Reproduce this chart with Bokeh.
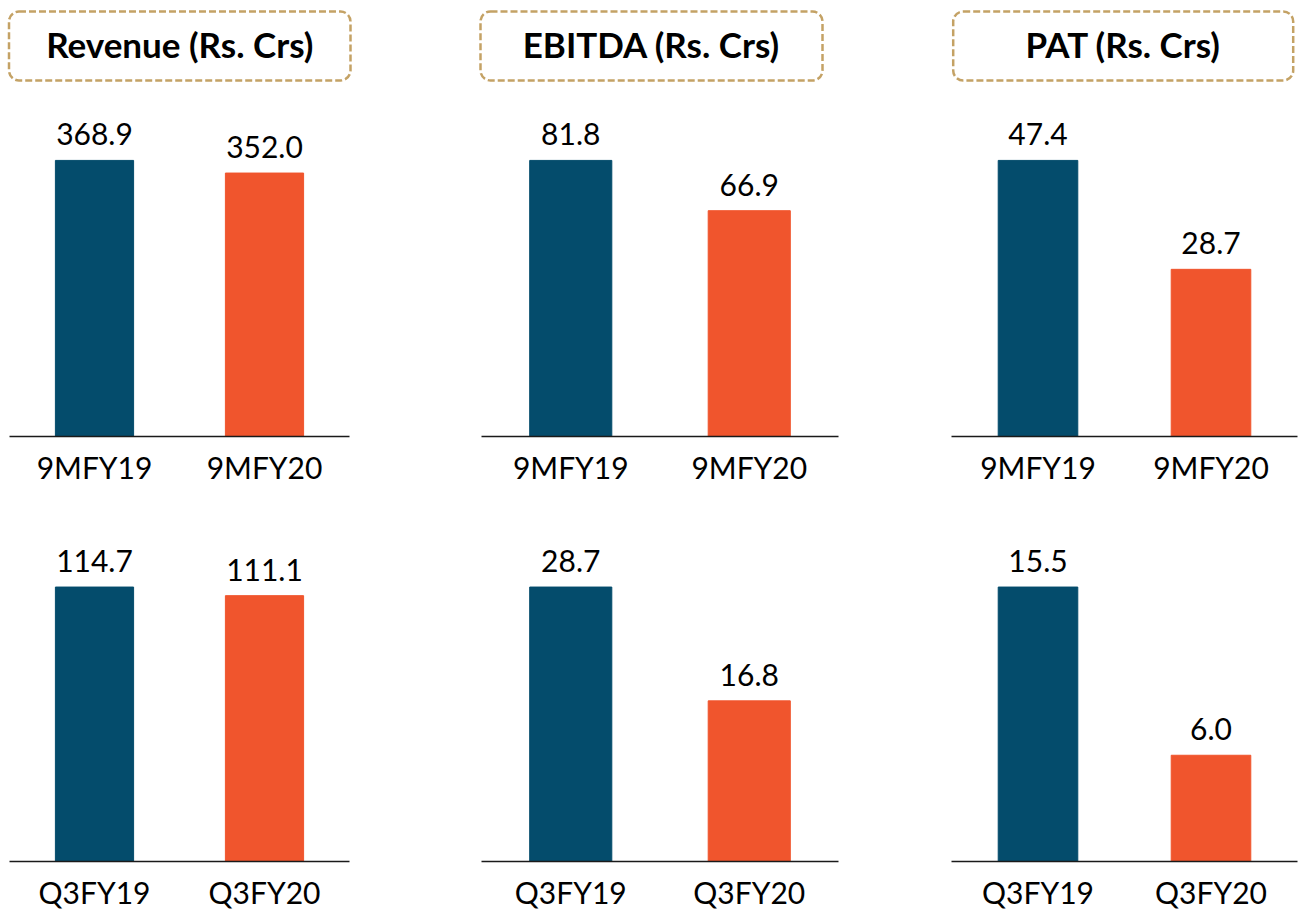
from bokeh.plotting import figure
from bokeh.models import FactorRange, Range1d, BoxAnnotation, LabelSet, ColumnDataSource
from bokeh.layouts import row, column
from bokeh.core.properties import value
from bokeh.embed import file_html
from bokeh.resources import INLINE

# ---- data ----
titles = ["Revenue (Rs. Crs)", "EBITDA (Rs. Crs)", "PAT (Rs. Crs)"]
cats_9m = ["9MFY19", "9MFY20"]
cats_q3 = ["Q3FY19", "Q3FY20"]
revenue_9m = [368.9, 352.0]
ebitda_9m = [81.8, 66.9]
pat_9m = [47.4, 28.7]
revenue_q3 = [114.7, 111.1]
ebitda_q3 = [28.7, 16.8]
pat_q3 = [15.5, 6.0]
bar_colors = ["#044C6C", "#F0552D"]

# ---- layout constants (pixels) ----
FONT = "Lato"
col_w = [415, 480, 405]
frame_left = [9, 66, 56]
frame_w = [340, 357, 346]
box_x = [(8.5, 350), (65, 407), (57.7, 397.7)]
H_HEAD = 88
H_TOP = 412
H_BOT = 412
HEADROOM = 1.217


def header(i):
    w = col_w[i]
    p = figure(width=w, height=H_HEAD, x_range=Range1d(0, w), y_range=Range1d(H_HEAD, 0),
               x_axis_type=None, y_axis_type=None, toolbar_location=None,
               output_backend="svg", min_border=0)
    p.outline_line_color = None
    p.grid.visible = False
    l, r = box_x[i]
    box = BoxAnnotation(left=l, right=r, top=11, bottom=80, fill_alpha=0,
                        line_color="#C4A265", line_alpha=1.0, line_width=2.5,
                        line_dash="7 3", border_radius=10)
    p.add_layout(box)
    p.text(x=[(l + r) / 2], y=[43], text=[titles[i]], text_align="center",
           text_baseline="middle", text_font=value(FONT), text_font_style="bold",
           text_font_size="35px", text_color="#000000")
    return p


def bars(i, cats, vals, height, top_border, bottom_border):
    p = figure(width=col_w[i], height=height, x_range=FactorRange(*cats),
               y_range=Range1d(0, max(vals) * HEADROOM), y_axis_type=None,
               toolbar_location=None, output_backend="svg",
               min_border_left=frame_left[i],
               min_border_right=col_w[i] - frame_left[i] - frame_w[i],
               min_border_top=top_border, min_border_bottom=bottom_border)
    p.outline_line_color = None
    p.grid.visible = False
    src = ColumnDataSource(dict(x=cats, top=vals, color=bar_colors,
                                label=["%.1f" % v for v in vals]))
    p.vbar(x="x", top="top", width=0.46, color="color", source=src)
    p.add_layout(LabelSet(x="x", y="top", text="label", source=src, text_align="center",
                          text_baseline="alphabetic", y_offset=15,
                          text_font=value(FONT), text_font_size="30px", text_color="#000000"))
    ax = p.xaxis[0]
    ax.axis_line_color = "#1a1a1a"
    ax.axis_line_width = 1.6
    ax.major_tick_line_color = None
    ax.minor_tick_line_color = None
    ax.major_tick_out = 0
    ax.major_tick_in = 0
    ax.major_label_standoff = 12
    ax.major_label_text_font = FONT
    ax.major_label_text_font_size = "30px"
    ax.major_label_text_color = "#000000"
    return p


heads = [header(i) for i in range(3)]
top_vals = [revenue_9m, ebitda_9m, pat_9m]
bot_vals = [revenue_q3, ebitda_q3, pat_q3]
tops = [bars(i, cats_9m, top_vals[i], H_TOP, 12, 64) for i in range(3)]
bots = [bars(i, cats_q3, bot_vals[i], H_BOT, 27, 49) for i in range(3)]

layout = column(row(*heads, spacing=0), row(*tops, spacing=0), row(*bots, spacing=0), spacing=0)

open("out.html", "w").write(file_html(layout, INLINE))
